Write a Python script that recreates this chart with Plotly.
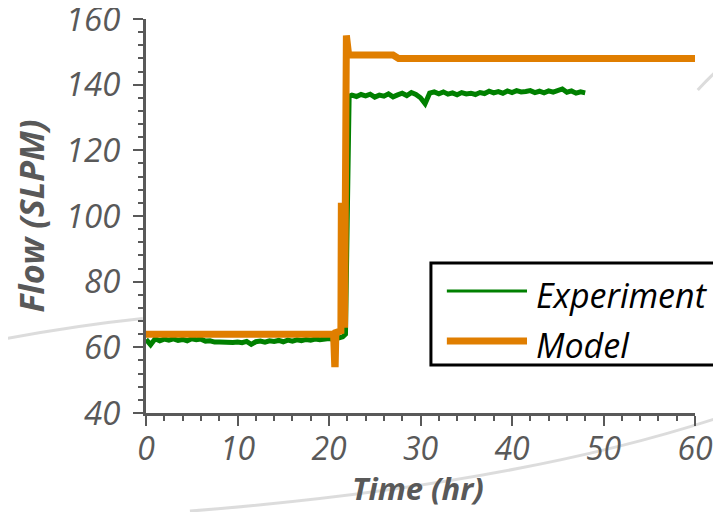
import plotly.graph_objects as go

# ---------------- data ----------------
exp_time = [
    0.0, 0.5, 1.0, 1.5, 2.0, 2.5, 3.0, 3.5, 4.0, 4.5, 5.0, 5.5, 6.0, 6.5, 7.0, 7.5,
    8.0, 8.5, 9.0, 9.5, 10.0, 10.5, 11.0, 11.5, 12.0, 12.5, 13.0, 13.5, 14.0, 14.5,
    15.0, 15.5, 16.0, 16.5, 17.0, 17.5, 18.0, 18.5, 19.0, 19.5, 20.0, 20.5, 21.0,
    21.5, 21.8, 21.95, 22.05, 22.2,
    22.5, 23.0, 23.5, 24.0, 24.5, 25.0, 25.5, 26.0, 26.5, 27.0, 27.5, 28.0, 28.5,
    29.0, 29.5, 30.0, 30.5, 31.0, 31.5, 32.0, 32.5, 33.0, 33.5, 34.0, 34.5, 35.0,
    35.5, 36.0, 36.5, 37.0, 37.5, 38.0, 38.5, 39.0, 39.5, 40.0, 40.5, 41.0, 41.5,
    42.0, 42.5, 43.0, 43.5, 44.0, 44.5, 45.0, 45.5, 46.0, 46.5, 47.0, 47.5, 48.0,
]
exp_flow = [
    62.4, 60.8, 62.6, 62.0, 62.5, 62.2, 62.6, 62.1, 62.4, 62.0, 62.6, 62.3, 62.5, 61.9,
    62.0, 61.6, 61.6, 61.5, 61.7, 61.5, 61.6, 61.4, 61.8, 60.9, 61.7, 61.9, 61.6, 62.0,
    61.8, 62.1, 61.7, 62.2, 61.9, 62.3, 62.0, 62.4, 62.2, 62.5, 62.3, 62.5, 62.7, 62.4,
    62.9,
    63.2, 64.0, 90.0, 128.0, 136.5,
    136.8, 136.4, 137.0, 136.6, 137.1, 136.2, 136.8, 136.5, 137.2, 136.3, 136.9, 137.4,
    136.7, 137.6, 137.0, 136.0, 134.2, 137.4, 137.8, 137.2, 137.8, 137.1, 137.5, 136.9,
    137.6, 137.2, 137.4, 137.0, 137.6, 137.3, 138.0, 137.5, 137.9, 137.4, 138.1, 137.6,
    138.2, 137.8, 137.9, 138.2, 137.6, 138.0, 137.5, 138.1, 137.7, 138.3, 138.7, 137.7,
    138.1, 137.4, 137.8, 137.5,
]

model_time = [0.0, 20.5, 20.62, 20.68, 20.75, 21.3, 21.35, 21.4, 21.45, 21.5, 21.55,
              21.7, 21.9, 21.95, 22.05, 22.15, 22.3, 27.0, 27.6, 60.0]
model_flow = [64.0, 64.0, 55.0, 55.0, 64.5, 65.0, 104.0, 66.0, 100.0, 88.0, 104.0,
              66.0, 155.0, 150.0, 155.0, 149.0, 149.0, 149.0, 148.0, 148.0]

x_ticks = [0, 10, 20, 30, 40, 50, 60]
y_ticks = [40, 60, 80, 100, 120, 140, 160]
series_names = ["Experiment", "Model"]
x_title = "Time (hr)"
y_title = "Flow (SLPM)"

GREEN = "#008000"
ORANGE = "#E07E00"
AXIS = "#595959"
FONT = "Open Sans"

fig = go.Figure()
fig.add_trace(go.Scatter(x=exp_time, y=exp_flow, mode="lines", name=series_names[0],
                         line=dict(color=GREEN, width=5), showlegend=False))
fig.add_trace(go.Scatter(x=model_time, y=model_flow, mode="lines", name=series_names[1],
                         line=dict(color=ORANGE, width=7), showlegend=False))

# faint decorative background arcs (outside plot area)
arc_style = dict(color="rgba(205,205,205,0.7)", width=3)
fig.add_shape(type="path", xref="paper", yref="paper", layer="below",
              path="M -0.27 0.185 Q -0.13 0.222 -0.006 0.24", line=arc_style)
fig.add_shape(type="path", xref="paper", yref="paper", layer="below",
              path="M 0.080 -0.249 Q 0.672 -0.183 1.047 -0.010", line=arc_style)
fig.add_shape(type="path", xref="paper", yref="paper", layer="below",
              path="M 1.005 0.820 Q 1.025 0.850 1.047 0.878", line=arc_style)

# manual legend
fig.add_shape(type="rect", xref="paper", yref="paper", x0=0.519, x1=1.040, y0=0.122, y1=0.381,
              line=dict(color="black", width=3), fillcolor="white")
fig.add_shape(type="line", xref="paper", yref="paper", x0=0.548, x1=0.694, y0=0.3096, y1=0.3096,
              line=dict(color=GREEN, width=3))
fig.add_shape(type="line", xref="paper", yref="paper", x0=0.548, x1=0.694, y0=0.1827, y1=0.1827,
              line=dict(color=ORANGE, width=7))
for name, yy in zip(series_names, [0.300, 0.172]):
    fig.add_annotation(x=0.706, y=yy, xref="paper", yref="paper", text=name, showarrow=False,
                       xanchor="left", yanchor="middle",
                       font=dict(family=FONT, size=34, color="black", style="italic"))

# x-axis title placed as annotation (sits tight under tick labels as in the original)
fig.add_annotation(x=0.495, y=-0.19, xref="paper", yref="paper", text=x_title, showarrow=False,
                   xanchor="center", yanchor="middle",
                   font=dict(family=FONT, size=31, color=AXIS, weight="bold", style="italic"))

# the page body adds an 8px margin, so the figure is 8px smaller than the window
fig.update_layout(
    width=713, height=504,
    margin=dict(l=138, r=26, t=11, b=99),
    paper_bgcolor="white", plot_bgcolor="white",
    showlegend=False,
)
fig.update_xaxes(
    range=[0, 60], tickvals=x_ticks, ticktext=[str(v) for v in x_ticks],
    automargin=False, ticklabeloverflow="allow",
    showline=True, linecolor=AXIS, linewidth=3, showgrid=False, zeroline=False,
    ticks="outside", ticklen=10, tickwidth=2, tickcolor=AXIS,
    minor=dict(ticks="outside", ticklen=5, tickwidth=2, tickcolor=AXIS, dtick=2),
    tickfont=dict(family=FONT, size=32, color=AXIS, style="italic"),
    ticklabelstandoff=-4,
)
fig.update_yaxes(
    range=[40, 160], tickvals=y_ticks, ticktext=[str(v) for v in y_ticks],
    automargin=False, ticklabeloverflow="allow",
    showline=True, linecolor=AXIS, linewidth=3, showgrid=False, zeroline=False,
    ticks="outside", ticklen=10, tickwidth=2, tickcolor=AXIS,
    minor=dict(ticks="outside", ticklen=5, tickwidth=2, tickcolor=AXIS, dtick=4),
    tickfont=dict(family=FONT, size=33, color=AXIS, style="italic"),
    ticklabelstandoff=6,
    title=dict(text=y_title, standoff=14,
               font=dict(family=FONT, size=34, color=AXIS, weight="bold", style="italic")),
)

fig.write_html("out.html")
